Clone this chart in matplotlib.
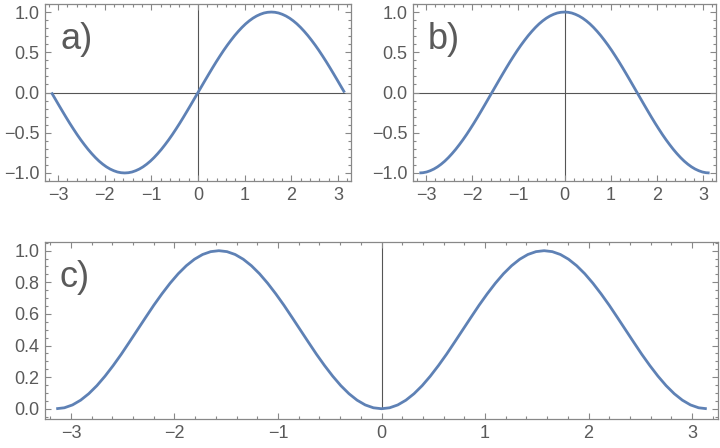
import numpy as np
import matplotlib.pyplot as plt
from matplotlib.ticker import MultipleLocator

plt.rcParams['font.family'] = ['Liberation Sans', 'DejaVu Sans']

# valeurs, 81 points entre -pi et pi
sin_a = [0.0, -0.078, -0.156, -0.233, -0.309, -0.383, -0.454, -0.523, -0.588, -0.649,
         -0.707, -0.760, -0.809, -0.853, -0.891, -0.924, -0.951, -0.972, -0.988, -0.997,
         -1.0, -0.997, -0.988, -0.972, -0.951, -0.924, -0.891, -0.853, -0.809, -0.760,
         -0.707, -0.649, -0.588, -0.523, -0.454, -0.383, -0.309, -0.233, -0.156, -0.078,
         0.0, 0.078, 0.156, 0.233, 0.309, 0.383, 0.454, 0.523, 0.588, 0.649,
         0.707, 0.760, 0.809, 0.853, 0.891, 0.924, 0.951, 0.972, 0.988, 0.997,
         1.0, 0.997, 0.988, 0.972, 0.951, 0.924, 0.891, 0.853, 0.809, 0.760,
         0.707, 0.649, 0.588, 0.523, 0.454, 0.383, 0.309, 0.233, 0.156, 0.078, 0.0]
cos_b = [-1.0, -0.997, -0.988, -0.972, -0.951, -0.924, -0.891, -0.853, -0.809, -0.760,
         -0.707, -0.649, -0.588, -0.523, -0.454, -0.383, -0.309, -0.233, -0.156, -0.078,
         0.0, 0.078, 0.156, 0.233, 0.309, 0.383, 0.454, 0.523, 0.588, 0.649,
         0.707, 0.760, 0.809, 0.853, 0.891, 0.924, 0.951, 0.972, 0.988, 0.997,
         1.0, 0.997, 0.988, 0.972, 0.951, 0.924, 0.891, 0.853, 0.809, 0.760,
         0.707, 0.649, 0.588, 0.523, 0.454, 0.383, 0.309, 0.233, 0.156, 0.078,
         0.0, -0.078, -0.156, -0.233, -0.309, -0.383, -0.454, -0.523, -0.588, -0.649,
         -0.707, -0.760, -0.809, -0.853, -0.891, -0.924, -0.951, -0.972, -0.988, -0.997, -1.0]
sin2_c = [0.0, 0.006, 0.024, 0.054, 0.095, 0.146, 0.206, 0.273, 0.345, 0.422,
          0.5, 0.578, 0.655, 0.727, 0.794, 0.854, 0.905, 0.946, 0.976, 0.994,
          1.0, 0.994, 0.976, 0.946, 0.905, 0.854, 0.794, 0.727, 0.655, 0.578,
          0.5, 0.422, 0.345, 0.273, 0.206, 0.146, 0.095, 0.054, 0.024, 0.006,
          0.0, 0.006, 0.024, 0.054, 0.095, 0.146, 0.206, 0.273, 0.345, 0.422,
          0.5, 0.578, 0.655, 0.727, 0.794, 0.854, 0.905, 0.946, 0.976, 0.994,
          1.0, 0.994, 0.976, 0.946, 0.905, 0.854, 0.794, 0.727, 0.655, 0.578,
          0.5, 0.422, 0.345, 0.273, 0.206, 0.146, 0.095, 0.054, 0.024, 0.006, 0.0]
x = np.linspace(-np.pi, np.pi, len(sin_a))

labels = ['a)', 'b)', 'c)']
xticks = [-3, -2, -1, 0, 1, 2, 3]
xlabels = ['\u22123', '\u22122', '\u22121', '0', '1', '2', '3']
line_col = '#5e81b5'
frame_col = '#888888'
txt_col = '#5a5a5a'

fig = plt.figure(figsize=(7.2, 4.48), dpi=100)
W, H = 720, 448
def box(l, t, r, b):
    return [l / W, 1 - b / H, (r - l) / W, (b - t) / H]

ax_a = fig.add_axes(box(45, 4, 351, 181))
ax_b = fig.add_axes(box(413, 4, 716, 181))
ax_c = fig.add_axes(box(45, 242, 718, 419))

def style(ax, ymaj, ymin):
    for s in ax.spines.values():
        s.set_color(frame_col)
        s.set_linewidth(0.9)
    ax.xaxis.set_major_locator(MultipleLocator(1))
    ax.xaxis.set_minor_locator(MultipleLocator(0.2))
    ax.yaxis.set_major_locator(MultipleLocator(ymaj))
    ax.yaxis.set_minor_locator(MultipleLocator(ymin))
    ax.tick_params(which='both', direction='in', top=True, right=True,
                   color=frame_col, width=0.8, labelsize=13, labelcolor=txt_col, pad=4)
    ax.tick_params(which='major', length=4.5)
    ax.tick_params(which='minor', length=2.5)

for ax, y, lab in [(ax_a, sin_a, labels[0]), (ax_b, cos_b, labels[1])]:
    ax.axhline(0, color='#555555', lw=0.8, zorder=1)
    ax.axvline(0, color='#555555', lw=0.8, zorder=1)
    ax.plot(x, y, color=line_col, lw=2.0, solid_capstyle='butt', zorder=3)
    ax.set_xlim(-3.28, 3.28)
    ax.set_ylim(-1.1, 1.1)
    style(ax, 0.5, 0.1)
    ax.set_yticks([-1.0, -0.5, 0.0, 0.5, 1.0])
    ax.set_yticklabels(['\u22121.0', '\u22120.5', '0.0', '0.5', '1.0'])
    ax.set_xticks(xticks)
    ax.set_xticklabels(xlabels)
    ax.text(0.05, 0.9, lab, transform=ax.transAxes, fontsize=26, color=txt_col, va='top')

ax_c.vlines(0, 0, 1.1, color='#555555', lw=0.8, zorder=1)
ax_c.plot(x, sin2_c, color=line_col, lw=2.0, solid_capstyle='butt', zorder=3)
ax_c.set_xlim(-3.25, 3.25)
ax_c.set_ylim(-0.065, 1.055)
style(ax_c, 0.2, 0.05)
ax_c.set_yticks([0.0, 0.2, 0.4, 0.6, 0.8, 1.0])
ax_c.set_yticklabels(['0.0', '0.2', '0.4', '0.6', '0.8', '1.0'])
ax_c.set_xticks(xticks)
ax_c.set_xticklabels(xlabels)
ax_c.text(0.021, 0.9, labels[2], transform=ax_c.transAxes, fontsize=26, color=txt_col, va='top')

plt.savefig('out.png', dpi=100)
